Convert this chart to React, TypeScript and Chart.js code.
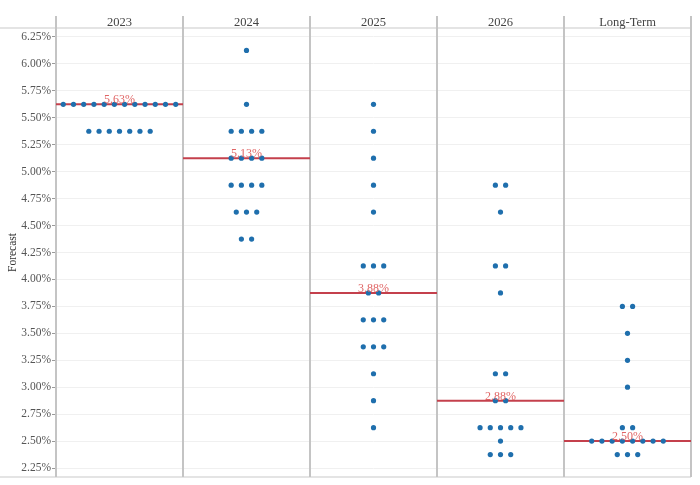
import { useEffect, useRef } from 'react';
import { Chart, registerables } from 'chart.js';

Chart.register(...registerables);

// Panels along the top, one per projection horizon
const CATEGORIES = ['2023', '2024', '2025', '2026', 'Long-Term'];

// Participants' rate projections per horizon: [rate %, number of participants]
const DOTS_2023: [number, number][] = [[5.625, 12], [5.375, 7]];
const DOTS_2024: [number, number][] = [
  [6.125, 1], [5.625, 1], [5.375, 4], [5.125, 4], [4.875, 4], [4.625, 3], [4.375, 2],
];
const DOTS_2025: [number, number][] = [
  [5.625, 1], [5.375, 1], [5.125, 1], [4.875, 1], [4.625, 1], [4.125, 3],
  [3.875, 2], [3.625, 3], [3.375, 3], [3.125, 1], [2.875, 1], [2.625, 1],
];
const DOTS_2026: [number, number][] = [
  [4.875, 2], [4.625, 1], [4.125, 2], [3.875, 1], [3.125, 2], [2.875, 2],
  [2.625, 5], [2.5, 1], [2.375, 3],
];
const DOTS_LONG_TERM: [number, number][] = [
  [3.75, 2], [3.5, 1], [3.25, 1], [3.0, 1], [2.625, 2], [2.5, 8], [2.375, 3],
];

// Median projection per horizon
const MEDIANS = [5.625, 5.125, 3.875, 2.875, 2.5];

// Y-axis tick values
const Y_TICKS = [2.25, 2.5, 2.75, 3.0, 3.25, 3.5, 3.75, 4.0, 4.25, 4.5, 4.75, 5.0, 5.25, 5.5, 5.75, 6.0, 6.25];

const GROUPS = [DOTS_2023, DOTS_2024, DOTS_2025, DOTS_2026, DOTS_LONG_TERM];

// Horizontal spacing between side-by-side dots, in panel-width units
const DOT_STEP = 0.0805;

const FONT = "'Liberation Serif', 'DejaVu Serif', serif";
const DOT_COLOR = '#1f6fad';
const MEDIAN_COLOR = '#c4404c';
const LABEL_COLOR = '#e06565';
const FRAME_COLOR = '#c4c4c4';

function swarmPoints() {
  const pts: { x: number; y: number }[] = [];
  GROUPS.forEach((group, i) => {
    group.forEach(([rate, count]) => {
      for (let k = 0; k < count; k++) {
        pts.push({ x: i + 0.5 + (k - (count - 1) / 2) * DOT_STEP, y: rate });
      }
    });
  });
  return pts;
}

const panelFrame = {
  id: 'panelFrame',
  beforeDatasetsDraw(chart: any) {
    const { ctx, chartArea, scales } = chart;
    const x = scales.x;
    ctx.save();
    // header rule and bottom rule
    ctx.strokeStyle = '#dcdcdc';
    ctx.lineWidth = 1.5;
    ctx.beginPath();
    ctx.moveTo(0, chartArea.top);
    ctx.lineTo(chartArea.right, chartArea.top);
    ctx.moveTo(0, chartArea.bottom);
    ctx.lineTo(chartArea.right, chartArea.bottom);
    ctx.stroke();
    // panel separators
    ctx.strokeStyle = FRAME_COLOR;
    ctx.lineWidth = 2;
    for (let i = 0; i <= CATEGORIES.length; i++) {
      const px = Math.round(x.getPixelForValue(i));
      ctx.beginPath();
      ctx.moveTo(px, chartArea.top - 12);
      ctx.lineTo(px, chartArea.bottom);
      ctx.stroke();
    }
    ctx.restore();
  },
  afterDatasetsDraw(chart: any) {
    const { ctx, chartArea, scales } = chart;
    const x = scales.x;
    const y = scales.y;
    ctx.save();
    // panel headings
    ctx.fillStyle = '#444';
    ctx.font = `12.5px ${FONT}`;
    ctx.textAlign = 'center';
    ctx.textBaseline = 'middle';
    CATEGORIES.forEach((c, i) => {
      ctx.fillText(c, x.getPixelForValue(i + 0.5), chartArea.top - 5);
    });
    // median labels
    ctx.fillStyle = LABEL_COLOR;
    ctx.font = `12px ${FONT}`;
    ctx.textBaseline = 'alphabetic';
    MEDIANS.forEach((m, i) => {
      ctx.fillText(m.toFixed(2) + '%', x.getPixelForValue(i + 0.5), y.getPixelForValue(m) - 1);
    });
    ctx.restore();
  },
};

export default function App() {
  const ref = useRef<HTMLCanvasElement>(null);

  useEffect(() => {
    const canvas = ref.current;
    if (!canvas) return;

    const medianSets = MEDIANS.map((m, i) => ({
      type: 'line' as const,
      data: [{ x: i, y: m }, { x: i + 1, y: m }],
      showLine: true,
      borderColor: MEDIAN_COLOR,
      borderWidth: 2,
      pointRadius: 0,
      order: 2,
    }));

    const chart = new Chart(canvas, {
      type: 'scatter',
      data: {
        datasets: [
          ...medianSets,
          {
            type: 'scatter' as const,
            data: swarmPoints(),
            backgroundColor: DOT_COLOR,
            borderWidth: 0,
            pointRadius: 2.6,
            order: 1,
          },
        ],
      },
      options: {
        animation: false,
        responsive: true,
        maintainAspectRatio: false,
        layout: { padding: { top: 28, bottom: 8, left: 0, right: 9 } },
        plugins: {
          legend: { display: false },
          tooltip: { enabled: false },
        },
        scales: {
          x: {
            type: 'linear',
            display: false,
            min: 0,
            max: CATEGORIES.length,
          },
          y: {
            type: 'linear',
            min: 2.167,
            max: 6.333,
            afterBuildTicks: (scale: any) => {
              scale.ticks = Y_TICKS.map((v) => ({ value: v }));
            },
            afterFit: (scale: any) => {
              scale.width = 56;
            },
            border: { display: false },
            grid: {
              color: '#f0f0f0',
              tickColor: '#9a9a9a',
              tickLength: 4,
              lineWidth: 1,
            },
            ticks: {
              padding: 1,
              color: '#555',
              font: { family: FONT, size: 11.5 },
              callback: (v: any) => Number(v).toFixed(2) + '%',
            },
            title: {
              display: true,
              text: 'Forecast',
              color: '#333',
              font: { family: FONT, size: 11.5 },
              padding: { top: 6, bottom: 0 },
            },
          },
        },
      },
      plugins: [panelFrame],
    });

    return () => chart.destroy();
  }, []);

  return (
    <div style={{ position: 'fixed', left: 0, top: 0, width: 700, height: 485, background: '#fff' }}>
      <canvas ref={ref} />
    </div>
  );
}
